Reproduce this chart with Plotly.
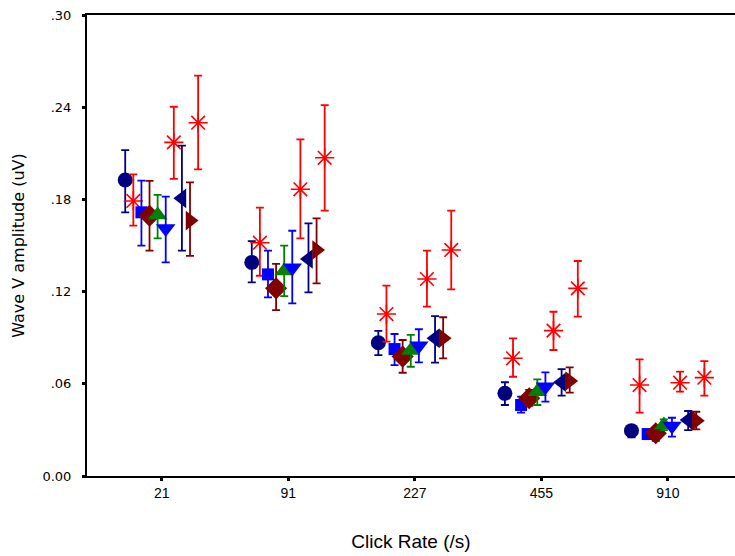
import plotly.graph_objects as go

categories = ["21", "91", "227", "455", "910"]

# Each series: mean, upper end of error bar, lower end of error bar (per click rate)
s1_mean = [0.1926, 0.1390, 0.0867, 0.0538, 0.0295]
s1_hi   = [0.2121, 0.1529, 0.0944, 0.0610, 0.0325]
s1_lo   = [0.1716, 0.1260, 0.0787, 0.0462, 0.0252]

s2_mean = [0.1790, 0.1518, 0.1054, 0.0766, 0.0592]
s2_hi   = [0.1963, 0.1746, 0.1239, 0.0896, 0.0759]
s2_lo   = [0.1629, 0.1303, 0.0874, 0.0646, 0.0412]

s3_mean = [0.1716, 0.1312, 0.0826, 0.0462, 0.0273]
s3_hi   = [0.1922, 0.1466, 0.0924, 0.0516, 0.0286]
s3_lo   = [0.1499, 0.1163, 0.0722, 0.0412, 0.0254]

s4_mean = [0.1694, 0.1221, 0.0777, 0.0506, 0.0278]
s4_hi   = [0.1920, 0.1380, 0.0885, 0.0560, 0.0317]
s4_lo   = [0.1466, 0.1080, 0.0672, 0.0456, 0.0228]

s5_mean = [0.1698, 0.1334, 0.0816, 0.0549, 0.0332]
s5_hi   = [0.1830, 0.1499, 0.0918, 0.0629, 0.0369]
s5_lo   = [0.1547, 0.1171, 0.0711, 0.0462, 0.0299]

s6_mean = [0.1610, 0.1356, 0.0848, 0.0581, 0.0325]
s6_hi   = [0.1818, 0.1596, 0.0955, 0.0675, 0.0379]
s6_lo   = [0.1390, 0.1124, 0.0740, 0.0484, 0.0256]

s7_mean = [0.2171, 0.1866, 0.1282, 0.0946, 0.0607]
s7_hi   = [0.2403, 0.2191, 0.1466, 0.1069, 0.0679]
s7_lo   = [0.1933, 0.1547, 0.1102, 0.0820, 0.0549]

s8_mean = [0.1807, 0.1412, 0.0896, 0.0610, 0.0364]
s8_hi   = [0.2150, 0.1644, 0.1041, 0.0696, 0.0423]
s8_lo   = [0.1466, 0.1195, 0.0738, 0.0523, 0.0299]

s9_mean = [0.1662, 0.1471, 0.0896, 0.0618, 0.0360]
s9_hi   = [0.1911, 0.1677, 0.1033, 0.0707, 0.0418]
s9_lo   = [0.1432, 0.1254, 0.0766, 0.0542, 0.0304]

s10_mean = [0.2299, 0.2071, 0.1471, 0.1221, 0.0640]
s10_hi   = [0.2605, 0.2414, 0.1727, 0.1399, 0.0748]
s10_lo   = [0.1996, 0.1727, 0.1215, 0.1037, 0.0523]

series = [
    (s1_mean, s1_hi, s1_lo, "circle", "#000080", 15),
    (s2_mean, s2_hi, s2_lo, "asterisk-open", "#FF0000", 16),
    (s3_mean, s3_hi, s3_lo, "square", "#0000FF", 12),
    (s4_mean, s4_hi, s4_lo, "diamond", "#800000", 17),
    (s5_mean, s5_hi, s5_lo, "triangle-up", "#008000", 17),
    (s6_mean, s6_hi, s6_lo, "triangle-down", "#0000FF", 17),
    (s7_mean, s7_hi, s7_lo, "asterisk-open", "#FF0000", 16),
    (s8_mean, s8_hi, s8_lo, "triangle-left", "#000080", 17),
    (s9_mean, s9_hi, s9_lo, "triangle-right", "#800000", 17),
    (s10_mean, s10_hi, s10_lo, "asterisk-open", "#FF0000", 16),
]

step = 0.064
fig = go.Figure()
n = len(series)
for i, (m, hi, lo, sym, col, sz) in enumerate(series):
    off = (i - (n - 1) / 2) * step
    xs = [k + off for k in range(len(categories))]
    fig.add_trace(go.Scatter(
        x=xs, y=m, mode="markers",
        marker=dict(symbol=sym, size=sz, color=col,
                    line=dict(color=col, width=1.6 if "asterisk" in sym else 0)),
        error_y=dict(type="data", symmetric=False,
                     array=[h - v for h, v in zip(hi, m)],
                     arrayminus=[v - l for v, l in zip(m, lo)],
                     color=col, thickness=1.8, width=4),
        showlegend=False,
    ))

fig.update_layout(
    width=735, height=556,
    margin=dict(l=87, r=0, t=15, b=80),
    paper_bgcolor="white", plot_bgcolor="white",
    xaxis=dict(
        range=[-0.59, 4.53],
        tickvals=list(range(len(categories))), ticktext=categories,
        showline=True, linecolor="black", linewidth=2, mirror=True,
        ticks="outside", ticklen=3, tickwidth=3, tickcolor="black",
        showgrid=False, zeroline=False,
        tickfont=dict(family="Liberation Sans", size=14, color="black"),
        title=dict(text="Click Rate (/s)", standoff=35,
                   font=dict(family="Liberation Sans", size=19, color="black")),
    ),
    yaxis=dict(
        range=[0, 0.30],
        tickvals=[0, 0.06, 0.12, 0.18, 0.24, 0.30],
        ticktext=["0.00", ".06", ".12", ".18", ".24", ".30"],
        showline=True, linecolor="black", linewidth=2,
        ticks="outside", ticklen=3, tickwidth=3, tickcolor="black",
        showgrid=False, zeroline=False,
        tickfont=dict(family="DejaVu Sans", size=13, color="black"),
        ticklabelstandoff=8,
        title=dict(text="Wave V amplitude (uV)", standoff=14,
                   font=dict(family="DejaVu Sans", size=16, color="black")),
    ),
)

fig.write_html("out.html")
